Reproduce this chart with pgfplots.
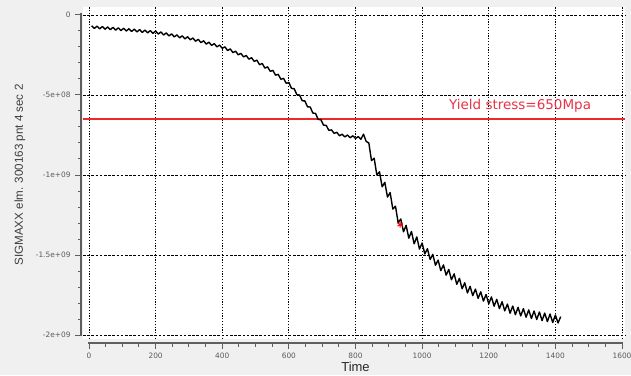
\documentclass[border=0pt]{standalone}
\usepackage{pgfplots}
\usepackage{pgfplotstable}
\pgfplotsset{compat=1.18}
\usepackage{fontspec}
\setmainfont{Liberation Sans}
\newfontfamily\tickfont{DejaVu Sans}

\definecolor{panel}{RGB}{240,240,240}
\definecolor{axisgray}{RGB}{95,95,95}
\definecolor{labelgray}{RGB}{90,90,90}
\definecolor{yieldred}{RGB}{238,40,40}
\definecolor{textred}{RGB}{232,52,72}

% SIGMAXX at element 300163, point 4, section 2 (Pa) versus time
\pgfplotstableread{
t sxx
8 -0.67e8
16 -0.84e8
24 -0.70e8
32 -0.87e8
40 -0.72e8
48 -0.89e8
56 -0.75e8
64 -0.92e8
72 -0.77e8
80 -0.95e8
88 -0.80e8
96 -0.97e8
104 -0.83e8
112 -1.00e8
120 -0.86e8
128 -1.03e8
136 -0.88e8
144 -1.06e8
152 -0.91e8
160 -1.09e8
168 -0.94e8
176 -1.12e8
184 -0.97e8
192 -1.15e8
200 -1.00e8
208 -1.19e8
216 -1.06e8
224 -1.25e8
232 -1.12e8
240 -1.31e8
248 -1.18e8
256 -1.37e8
264 -1.24e8
272 -1.43e8
280 -1.30e8
288 -1.49e8
296 -1.36e8
304 -1.55e8
312 -1.44e8
320 -1.64e8
328 -1.52e8
336 -1.73e8
344 -1.61e8
352 -1.82e8
360 -1.70e8
368 -1.90e8
376 -1.79e8
384 -1.99e8
392 -1.88e8
400 -2.08e8
408 -1.99e8
416 -2.22e8
424 -2.12e8
432 -2.35e8
440 -2.26e8
448 -2.49e8
456 -2.40e8
464 -2.62e8
472 -2.53e8
480 -2.76e8
488 -2.67e8
496 -2.90e8
504 -2.82e8
512 -3.11e8
520 -3.03e8
528 -3.32e8
536 -3.24e8
544 -3.52e8
552 -3.46e8
560 -3.76e8
568 -3.71e8
576 -4.02e8
584 -3.96e8
592 -4.27e8
600 -4.22e8
608 -4.59e8
616 -4.61e8
624 -4.98e8
632 -5.00e8
640 -5.36e8
648 -5.37e8
656 -5.74e8
664 -5.75e8
672 -6.13e8
680 -6.15e8
688 -6.53e8
696 -6.54e8
704 -6.88e8
712 -6.90e8
720 -7.21e8
728 -7.18e8
736 -7.40e8
744 -7.33e8
752 -7.55e8
760 -7.45e8
768 -7.62e8
776 -7.50e8
784 -7.67e8
792 -7.55e8
800 -7.72e8
808 -7.60e8
816 -7.77e8
824 -7.45e8
832 -7.90e8
840 -8.00e8
848 -9.10e8
856 -8.95e8
864 -10.00e8
872 -9.80e8
880 -10.74e8
888 -10.46e8
896 -11.38e8
904 -11.10e8
912 -12.13e8
920 -11.95e8
928 -12.98e8
936 -12.75e8
944 -13.55e8
952 -13.15e8
960 -13.95e8
968 -13.53e8
976 -14.30e8
984 -13.87e8
992 -14.63e8
1000 -14.25e8
1008 -14.93e8
1016 -14.61e8
1024 -15.28e8
1032 -14.96e8
1040 -15.64e8
1048 -15.32e8
1056 -15.98e8
1064 -15.62e8
1072 -16.26e8
1080 -15.90e8
1088 -16.55e8
1096 -16.18e8
1104 -16.83e8
1112 -16.46e8
1120 -17.11e8
1128 -16.74e8
1136 -17.37e8
1144 -16.96e8
1152 -17.54e8
1160 -17.13e8
1168 -17.71e8
1176 -17.30e8
1184 -17.88e8
1192 -17.47e8
1200 -18.05e8
1208 -17.62e8
1216 -18.20e8
1224 -17.77e8
1232 -18.35e8
1240 -17.92e8
1248 -18.49e8
1256 -18.07e8
1264 -18.64e8
1272 -18.19e8
1280 -18.73e8
1288 -18.27e8
1296 -18.81e8
1304 -18.35e8
1312 -18.89e8
1320 -18.43e8
1328 -18.97e8
1336 -18.50e8
1344 -19.03e8
1352 -18.56e8
1360 -19.10e8
1368 -18.63e8
1376 -19.16e8
1384 -18.69e8
1392 -19.22e8
1400 -18.75e8
1408 -19.25e8
1416 -18.85e8
}\sigmaxx

\begin{document}
\begin{tikzpicture}
\fill[panel] (0pt,0pt) rectangle (631pt,375pt);
\useasboundingbox (0pt,0pt) rectangle (631pt,375pt);

% white plotting area with the grid, the curve and the yield level
\begin{axis}[
  at={(83pt,36pt)}, anchor=south west, scale only axis,
  width=542pt, height=332pt,
  xmin=-18, xmax=1609, ymin=-2.025e9, ymax=5e7,
  scaled x ticks=false, scaled y ticks=false,
  axis background/.style={fill=white},
  axis line style={draw=none},
  xtick={0,200,400,600,800,1000,1200,1400,1600},
  ytick={-2e9,-1.5e9,-1e9,-5e8,0},
  xticklabels={}, yticklabels={},
  major tick length=0pt,
  grid=major,
  major x grid style={black, line width=0.8pt, dash pattern=on 1.2pt off 1.6pt},
  major y grid style={black, line width=0.8pt, dash pattern=on 2.6pt off 1.6pt},
  clip=false,
]
\addplot[yieldred, line width=1.7pt] coordinates {(-18,-6.5e8) (1609,-6.5e8)};
\addplot[black, line width=1.4pt, line join=round] table[x=t, y=sxx] {\sigmaxx};
\addplot[only marks, mark=asterisk, mark size=3pt, red, line width=1pt] coordinates {(934,-1.31e9)};
\node[textred, font=\tickfont\fontsize{13.5}{15}\selectfont] at (axis cs:1294,-5.7e8) {Yield stress=650Mpa};
\end{axis}

% detached vertical axis (ticks and labels)
\begin{axis}[
  at={(81pt,40pt)}, anchor=south west, scale only axis,
  width=1pt, height=320pt,
  xmin=0, xmax=1, ymin=-2e9, ymax=0,
  scaled y ticks=false,
  axis x line=none, axis y line=left,
  axis line style={draw=none},
  xtick=\empty,
  ytick={-2e9,-1.5e9,-1e9,-5e8,0},
  yticklabels={-2e+09,-1.5e+09,-1e+09,-5e+08,0},
  minor y tick num=4,
  tick align=outside, major tick length=6pt, minor tick length=3.5pt,
  every tick/.style={axisgray, line width=1pt},
  yticklabel style={font=\tickfont\fontsize{7.4}{8}\selectfont, text=labelgray, xshift=-1pt},
  ylabel={SIGMAXX elm. 300163 pnt 4 sec 2},
  every axis y label/.style={at={(rel axis cs:0,0.5)}, xshift=-61pt, rotate=90, anchor=center,
    font=\fontsize{11.6}{13}\selectfont, text={rgb,255:red,60;green,60;blue,60}},
]
\end{axis}

% detached horizontal axis (ticks and labels)
\begin{axis}[
  at={(89pt,32pt)}, anchor=south west, scale only axis,
  width=533pt, height=1pt,
  xmin=0, xmax=1600, ymin=0, ymax=1,
  scaled x ticks=false,
  axis y line=none, axis x line=bottom,
  axis line style={draw=none},
  ytick=\empty,
  xtick={0,200,400,600,800,1000,1200,1400,1600},
  xticklabels={0,200,400,600,800,1000,1200,1400,1600},
  minor x tick num=3,
  tick align=outside, major tick length=6pt, minor tick length=3.5pt,
  every tick/.style={axisgray, line width=1pt},
  xticklabel style={font=\tickfont\fontsize{7.4}{8}\selectfont, text=labelgray},
  xlabel={Time},
  every axis x label/.style={at={(rel axis cs:0.5,0)}, yshift=-24pt, anchor=center,
    font=\fontsize{13}{15}\selectfont, text={rgb,255:red,40;green,40;blue,40}},
]
\end{axis}

% the two axis spines, as solid bars
\fill[axisgray] (79.9pt,39pt) rectangle (82.1pt,362pt);
\fill[axisgray] (88pt,30.9pt) rectangle (622.5pt,33.1pt);
\end{tikzpicture}
\end{document}
